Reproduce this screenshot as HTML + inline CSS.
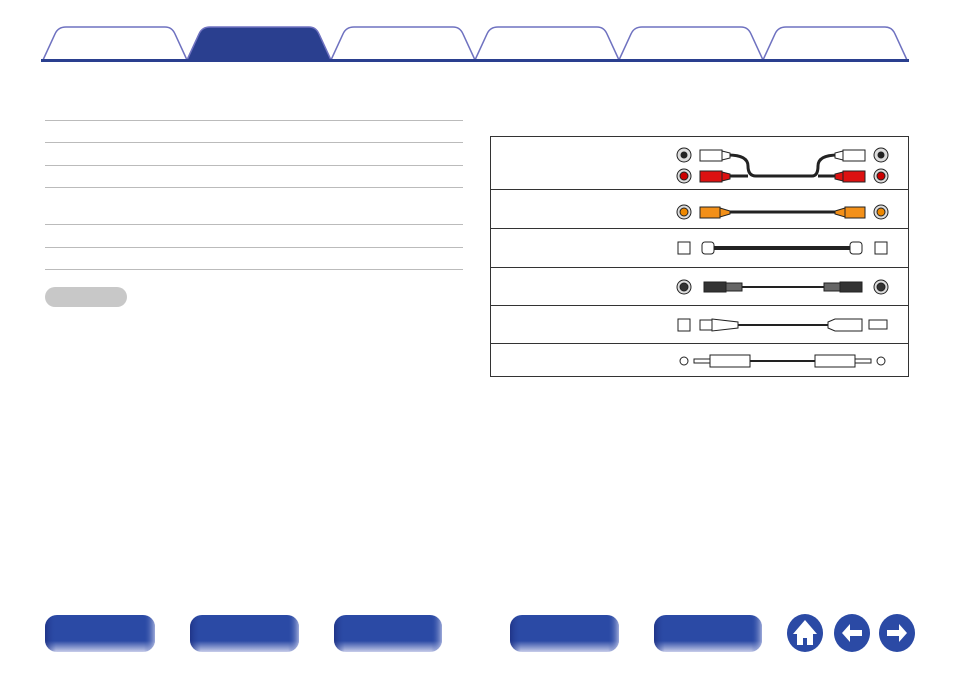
<!DOCTYPE html>
<html><head><meta charset="utf-8"><style>body{margin:0;background:#fff}svg{display:block}</style></head><body>
<svg width="954" height="673" viewBox="0 0 954 673" xmlns="http://www.w3.org/2000/svg">
<defs>
<linearGradient id="bg" x1="0" y1="0" x2="0" y2="1"><stop offset="0" stop-color="#2b4aa5"/><stop offset="0.7" stop-color="#2b4aa5"/><stop offset="1" stop-color="#c8cdea"/></linearGradient>
<linearGradient id="bh" x1="0" y1="0" x2="1" y2="0"><stop offset="0" stop-color="#1d2f80" stop-opacity=".8"/><stop offset="0.1" stop-color="#2b4aa5" stop-opacity="0"/><stop offset="0.9" stop-color="#2b4aa5" stop-opacity="0"/><stop offset="1" stop-color="#d0d4f0" stop-opacity=".7"/></linearGradient>
</defs>
<g fill="#fff" stroke="#6f72c0" stroke-width="1.5">
<path d="M43,60 L55,34 Q58,27 66,27 L165,27 Q172,27 175,34 L187,60"/>
<path d="M331,60 L343,34 Q346,27 354,27 L453,27 Q460,27 463,34 L475,60"/>
<path d="M475,60 L487,34 Q490,27 498,27 L597,27 Q604,27 607,34 L619,60"/>
<path d="M619,60 L631,34 Q634,27 642,27 L741,27 Q748,27 751,34 L763,60"/>
<path d="M763,60 L775,34 Q778,27 786,27 L885,27 Q892,27 895,34 L907,60"/>
</g>
<path d="M187,60 L199,34 Q202,27 210,27 L309,27 Q316,27 319,34 L331,60Z" fill="#2a3f8f" stroke="#6f72c0" stroke-width="1.5"/>
<rect x="41" y="59" width="868" height="3" fill="#2a3f8f"/>
<g stroke="#bbb" stroke-width="1">
<line x1="45" y1="120.5" x2="463" y2="120.5"/><line x1="45" y1="142.5" x2="463" y2="142.5"/><line x1="45" y1="165.5" x2="463" y2="165.5"/><line x1="45" y1="187.5" x2="463" y2="187.5"/><line x1="45" y1="224.5" x2="463" y2="224.5"/><line x1="45" y1="247.5" x2="463" y2="247.5"/><line x1="45" y1="269.5" x2="463" y2="269.5"/>
</g>
<rect x="45" y="287" width="82" height="20" rx="10" fill="#c8c8c8"/>
<rect x="490.5" y="136.5" width="418" height="240" fill="none" stroke="#333" stroke-width="1"/>
<g stroke="#333" stroke-width="1"><line x1="490" y1="189.5" x2="909" y2="189.5"/><line x1="490" y1="228.5" x2="909" y2="228.5"/><line x1="490" y1="267.5" x2="909" y2="267.5"/><line x1="490" y1="305.5" x2="909" y2="305.5"/><line x1="490" y1="343.5" x2="909" y2="343.5"/></g>
<!-- row1 RCA stereo -->
<g stroke="#222" stroke-width="1">
<circle cx="684" cy="155" r="7" fill="#ddd"/><circle cx="684" cy="155" r="3" fill="#222"/>
<circle cx="684" cy="176" r="7" fill="#ddd"/><circle cx="684" cy="176" r="4" fill="#c00"/>
<circle cx="881" cy="155" r="7" fill="#ddd"/><circle cx="881" cy="155" r="3" fill="#222"/>
<circle cx="881" cy="176" r="7" fill="#ddd"/><circle cx="881" cy="176" r="4" fill="#c00"/>
</g>
<path d="M728,155 Q748,155 748,166 Q748,176 756,176 L812,176 Q818,176 818,166 Q818,155 838,155" fill="none" stroke="#222" stroke-width="3"/>
<path d="M728,176 L748,176" stroke="#222" stroke-width="3"/><path d="M818,176 L838,176" stroke="#222" stroke-width="3"/>
<g stroke="#222" stroke-width="1">
<rect x="700" y="150" width="22" height="11" fill="#fff"/><path d="M722,151 L730,153 L730,158 L722,160Z" fill="#fff"/>
<rect x="700" y="171" width="22" height="11" fill="#d11"/><path d="M722,172 L730,174 L730,179 L722,181Z" fill="#d11"/>
<rect x="843" y="150" width="22" height="11" fill="#fff"/><path d="M843,151 L835,153 L835,158 L843,160Z" fill="#fff"/>
<rect x="843" y="171" width="22" height="11" fill="#d11"/><path d="M843,172 L835,174 L835,179 L843,181Z" fill="#d11"/>
</g>
<!-- row2 orange -->
<line x1="730" y1="212" x2="835" y2="212" stroke="#222" stroke-width="3"/>
<g stroke="#222" stroke-width="1">
<circle cx="684" cy="212" r="7" fill="#ddd"/><circle cx="684" cy="212" r="4" fill="#e80"/>
<circle cx="881" cy="212" r="7" fill="#ddd"/><circle cx="881" cy="212" r="4" fill="#e80"/>
<rect x="700" y="207" width="20" height="11" fill="#f39019"/><path d="M720,208 L730,211 L730,214 L720,217Z" fill="#f39019"/>
<rect x="845" y="207" width="20" height="11" fill="#f39019"/><path d="M845,208 L835,211 L835,214 L845,217Z" fill="#f39019"/>
</g>
<!-- row3 optical -->
<line x1="712" y1="248" x2="852" y2="248" stroke="#222" stroke-width="4"/>
<g stroke="#222" stroke-width="1" fill="#fff">
<rect x="678" y="242" width="12" height="12"/><rect x="875" y="242" width="12" height="12"/>
<rect x="702" y="242" width="12" height="12" rx="3"/><rect x="850" y="242" width="12" height="12" rx="3"/>
</g>
<!-- row4 s-video/coax -->
<line x1="740" y1="287" x2="825" y2="287" stroke="#222" stroke-width="2"/>
<g stroke="#222" stroke-width="1">
<circle cx="684" cy="287" r="7" fill="#ddd"/><circle cx="684" cy="287" r="4" fill="#333"/>
<circle cx="881" cy="287" r="7" fill="#ddd"/><circle cx="881" cy="287" r="4" fill="#333"/>
<rect x="704" y="282" width="22" height="10" fill="#333"/><rect x="726" y="283" width="16" height="8" fill="#666"/>
<rect x="840" y="282" width="22" height="10" fill="#333"/><rect x="824" y="283" width="16" height="8" fill="#666"/>
</g>
<!-- row5 USB -->
<line x1="738" y1="325" x2="828" y2="325" stroke="#222" stroke-width="2"/>
<g stroke="#222" stroke-width="1" fill="#fff">
<rect x="678" y="319" width="12" height="12"/><rect x="700" y="320" width="12" height="10"/><path d="M712,319 L738,322 L738,328 L712,331Z"/>
<path d="M828,322 L835,319 L862,319 L862,331 L835,331 L828,328Z"/><rect x="869" y="320" width="18" height="9"/>
</g>
<!-- row6 mini jack -->
<line x1="750" y1="361" x2="815" y2="361" stroke="#222" stroke-width="2"/>
<g stroke="#222" stroke-width="1" fill="#fff">
<circle cx="684" cy="361" r="4"/><circle cx="881" cy="361" r="4"/>
<rect x="694" y="359" width="16" height="4"/><rect x="710" y="355" width="40" height="12"/>
<rect x="855" y="359" width="16" height="4"/><rect x="815" y="355" width="40" height="12"/>
</g>
<!-- bottom buttons -->
<g>
<rect x="45" y="615" width="110" height="37" rx="12" fill="url(#bg)"/><rect x="45" y="615" width="110" height="37" rx="12" fill="url(#bh)"/>
<rect x="190" y="615" width="109" height="37" rx="12" fill="url(#bg)"/><rect x="190" y="615" width="109" height="37" rx="12" fill="url(#bh)"/>
<rect x="334" y="615" width="108" height="37" rx="12" fill="url(#bg)"/><rect x="334" y="615" width="108" height="37" rx="12" fill="url(#bh)"/>
<rect x="510" y="615" width="109" height="37" rx="12" fill="url(#bg)"/><rect x="510" y="615" width="109" height="37" rx="12" fill="url(#bh)"/>
<rect x="654" y="615" width="108" height="37" rx="12" fill="url(#bg)"/><rect x="654" y="615" width="108" height="37" rx="12" fill="url(#bh)"/>
</g>
<ellipse cx="805" cy="633" rx="18" ry="19" fill="#2b4aa5"/>
<ellipse cx="852" cy="633" rx="18" ry="19" fill="#2b4aa5"/>
<ellipse cx="897" cy="633" rx="18" ry="19" fill="#2b4aa5"/>
<path d="M793,634 L805,620 L817,634 L813,634 L813,645 L797,645 L797,634Z" fill="#fff"/><rect x="803" y="638" width="4" height="7" fill="#2b4aa5"/>
<path d="M842,633 L850,624 L850,630 L862,630 L862,636 L850,636 L850,642Z" fill="#fff"/>
<path d="M907,633 L899,624 L899,630 L887,630 L887,636 L899,636 L899,642Z" fill="#fff"/>
</svg>
</body></html>
